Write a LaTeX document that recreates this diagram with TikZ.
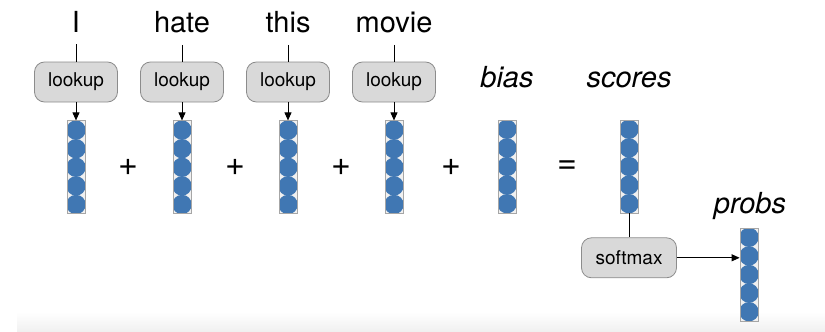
\documentclass[tikz,border=0pt]{standalone}
\usepackage{fontspec}
\setmainfont{TeX Gyre Heros}
\usepackage{tikz}
\usetikzlibrary{arrows.meta, positioning, calc}

\definecolor{vecblue}{RGB}{64, 119, 179}
\definecolor{boxgray}{RGB}{217, 217, 217}
\definecolor{edgegray}{RGB}{140, 140, 140}

\tikzset{
  word/.style={inner sep=0pt, anchor=base, font=\fontsize{29}{30}\selectfont},
  vlabel/.style={inner sep=0pt, anchor=base, font=\fontsize{29}{30}\selectfont\itshape},
  opbox/.style={rectangle, draw=edgegray, fill=boxgray, rounded corners=10pt, minimum width=83pt, minimum height=40pt, font=\fontsize{19}{20}\selectfont, line width=0.8pt},
  opsign/.style={inner sep=0pt, font=\fontsize{34}{36}\selectfont},
  vecnode/.style={rectangle, draw=gray!70, fill=gray!12, minimum width=18pt, minimum height=93pt, inner sep=0pt, line width=0.8pt,
    path picture={\foreach \k in {0,...,4}
      \fill[vecblue] ($(path picture bounding box.north)+(0,-9.3pt-18.6pt*\k)$) circle (9.7pt);}}
}

\begin{document}
\begin{tikzpicture}[x=1pt, y=-1pt, >={Triangle[length=8pt, width=7pt]}, line width=0.9pt]
    \useasboundingbox (0,0) rectangle (825,332);
    \shade [top color=white, bottom color=gray!12] (17,312) rectangle (825,332);

    % input words and their lookups
    \node [word] (w1) at (76,32) {I};
    \node [word] (w2) at (182,32) {hate};
    \node [word] (w3) at (288,32) {this};
    \node [word] (w4) at (394,32) {movie};
    \node [opbox] (look1) at (76,82) {lookup};
    \node [opbox] (look2) at (182,82) {lookup};
    \node [opbox] (look3) at (288,82) {lookup};
    \node [opbox] (look4) at (394,82) {lookup};
    \node [vecnode, below=18pt of look1] (v1) {};
    \node [vecnode, below=18pt of look2] (v2) {};
    \node [vecnode, below=18pt of look3] (v3) {};
    \node [vecnode, below=18pt of look4] (v4) {};

    % bias and scores
    \node [vecnode] (vbias) at (507,166.5) {};
    \node [vecnode] (vscores) at (629,166.5) {};
    \node [vlabel] (bias) at (507,87) {bias};
    \node [vlabel] (scores) at (629,87) {scores};

    \node [opsign] (plus1) at (128,167) {+};
    \node [opsign] (plus2) at (235,167) {+};
    \node [opsign] (plus3) at (341,167) {+};
    \node [opsign] (plus4) at (451,167) {+};
    \node [opsign] (eq) at (567,167) {=};

    % softmax to probs
    \node [opbox, minimum width=95pt, below=24pt of vscores] (softmax) {softmax};
    \node [vecnode] (vprobs) at (749,274.5) {};
    \node [vlabel] (probs) at (750,213) {probs};

    \draw [shorten <=12pt] (w1.south) -- (look1);
    \draw [shorten <=12pt] (w2.south) -- (look2);
    \draw [shorten <=12pt] (w3.south) -- (look3);
    \draw [shorten <=12pt] (w4.south) -- (look4);
    \draw [->] (look1) -- (v1);
    \draw [->] (look2) -- (v2);
    \draw [->] (look3) -- (v3);
    \draw [->] (look4) -- (v4);
    \draw (vscores) -- (softmax);
    \draw [->] (softmax.east) -- (softmax.east -| vprobs.west);
\end{tikzpicture}
\end{document}
